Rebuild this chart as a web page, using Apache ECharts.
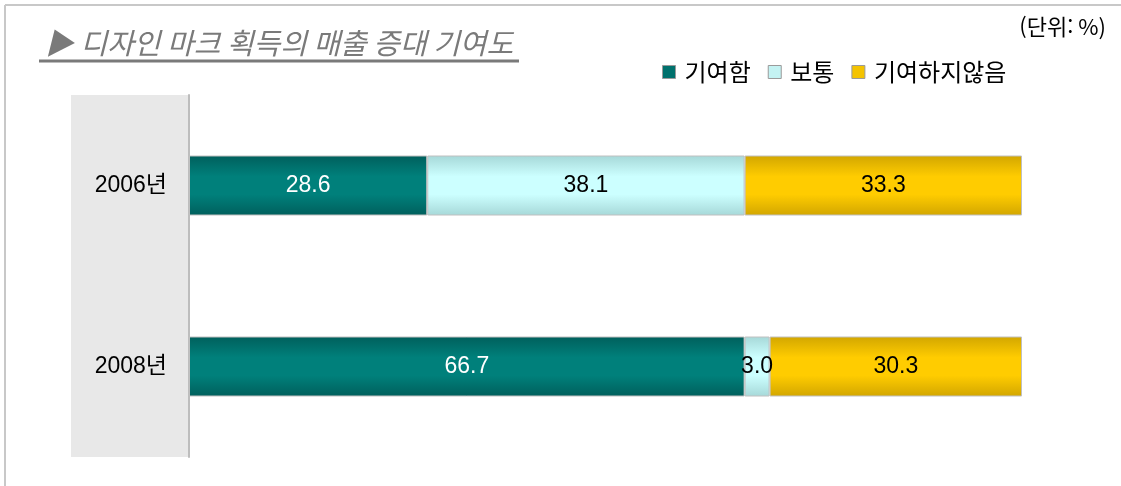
<!DOCTYPE html>
<html lang="ko">
<head>
    <meta charset="UTF-8">
    <title>디자인 마크 획득의 매출 증대 기여도</title>
    <script src="https://cdn.jsdelivr.net/npm/echarts@6/dist/echarts.min.js"></script>
    <style>
        html, body { margin: 0; padding: 0; background: #fff; }
        #main { width: 1121px; height: 486px; }
    </style>
</head>
<body>
<div id="main"></div>
<script>
    // 데이터
    var years = ['2006년', '2008년'];
    var seriesNames = ['기여함', '보통', '기여하지않음'];
    var contrib = [28.6, 66.7];
    var normal = [38.1, 3.0];
    var noContrib = [33.3, 30.3];

    var FONT = '"Noto Sans CJK KR", "Liberation Sans", sans-serif';

    function grad(edge, mid) {
        return new echarts.graphic.LinearGradient(0, 0, 0, 1, [
            { offset: 0, color: edge },
            { offset: 0.35, color: mid },
            { offset: 0.65, color: mid },
            { offset: 1, color: edge }
        ]);
    }

    var fills = [grad('#005f5c', '#00807b'), grad('#a6d8d8', '#ccffff'), grad('#d2a600', '#ffcc00')];
    var legendFills = ['#00716d', '#c4f3f3', '#f4c300'];
    var labelColors = ['#ffffff', '#000000', '#000000'];
    var values = [contrib, normal, noContrib];

    var chart = echarts.init(document.getElementById('main'));

    var series = seriesNames.map(function (name, i) {
        return {
            name: name,
            type: 'bar',
            stack: 'total',
            barWidth: 60,
            data: values[i],
            itemStyle: { color: fills[i], borderColor: '#c0c0c0', borderWidth: 1 },
            label: {
                show: true,
                position: 'inside',
                color: labelColors[i],
                fontFamily: '"Liberation Sans", Arial, sans-serif',
                fontSize: 23,
                formatter: function (p) { return p.value.toFixed(1); }
            },
            emphasis: { disabled: true }
        };
    });

    var option = {
        backgroundColor: '#ffffff',
        animation: false,
        textStyle: { fontFamily: FONT },
        grid: { left: 189, right: 99, top: 95, bottom: 29 },
        legend: {
            left: 657,
            top: 55,
            icon: 'rect',
            itemWidth: 13,
            itemHeight: 13,
            itemGap: 17,
            data: seriesNames.map(function (n, i) {
                return { name: n, itemStyle: { color: legendFills[i], borderColor: '#9a9a9a', borderWidth: 1 } };
            }),
            textStyle: { fontSize: 24, color: '#000', fontFamily: FONT, padding: [0, 0, 0, 4] }
        },
        xAxis: {
            type: 'value',
            min: 0,
            max: 100,
            show: false
        },
        yAxis: {
            type: 'category',
            data: years,
            inverse: true,
            axisLine: { show: true, lineStyle: { color: '#bdbdbd', width: 2 } },
            axisTick: { show: false },
            axisLabel: {
                fontSize: 23,
                color: '#000',
                margin: 22,
                fontFamily: '"Liberation Sans", "Noto Sans CJK KR", sans-serif'
            }
        },
        graphic: [
            // 좌측 회색 패널
            { type: 'rect', z: -1, shape: { x: 71, y: 95, width: 118, height: 362 }, style: { fill: '#e8e8e8' } },
            // 바깥 테두리
            { type: 'line', shape: { x1: 5, y1: 5, x2: 1121, y2: 5 }, style: { stroke: '#c8c8c8', lineWidth: 2 } },
            { type: 'line', shape: { x1: 5, y1: 5, x2: 5, y2: 486 }, style: { stroke: '#c8c8c8', lineWidth: 2 } },
            // 제목
            {
                type: 'text', left: 45, top: 28,
                style: {
                    text: '▶ 디자인 마크 획득의 매출 증대 기여도',
                    font: 'italic 29px "Noto Sans CJK KR", sans-serif',
                    fill: '#7a7a7a'
                }
            },
            { type: 'line', shape: { x1: 39, y1: 61, x2: 519, y2: 61 }, style: { stroke: '#7a7a7a', lineWidth: 3 } },
            // 단위
            {
                type: 'text', right: 15, top: 16,
                style: { text: '(단위: %)', font: '22px "Noto Sans CJK KR", sans-serif', fill: '#000' }
            }
        ],
        series: series
    };

    chart.setOption(option);
</script>
</body>
</html>
